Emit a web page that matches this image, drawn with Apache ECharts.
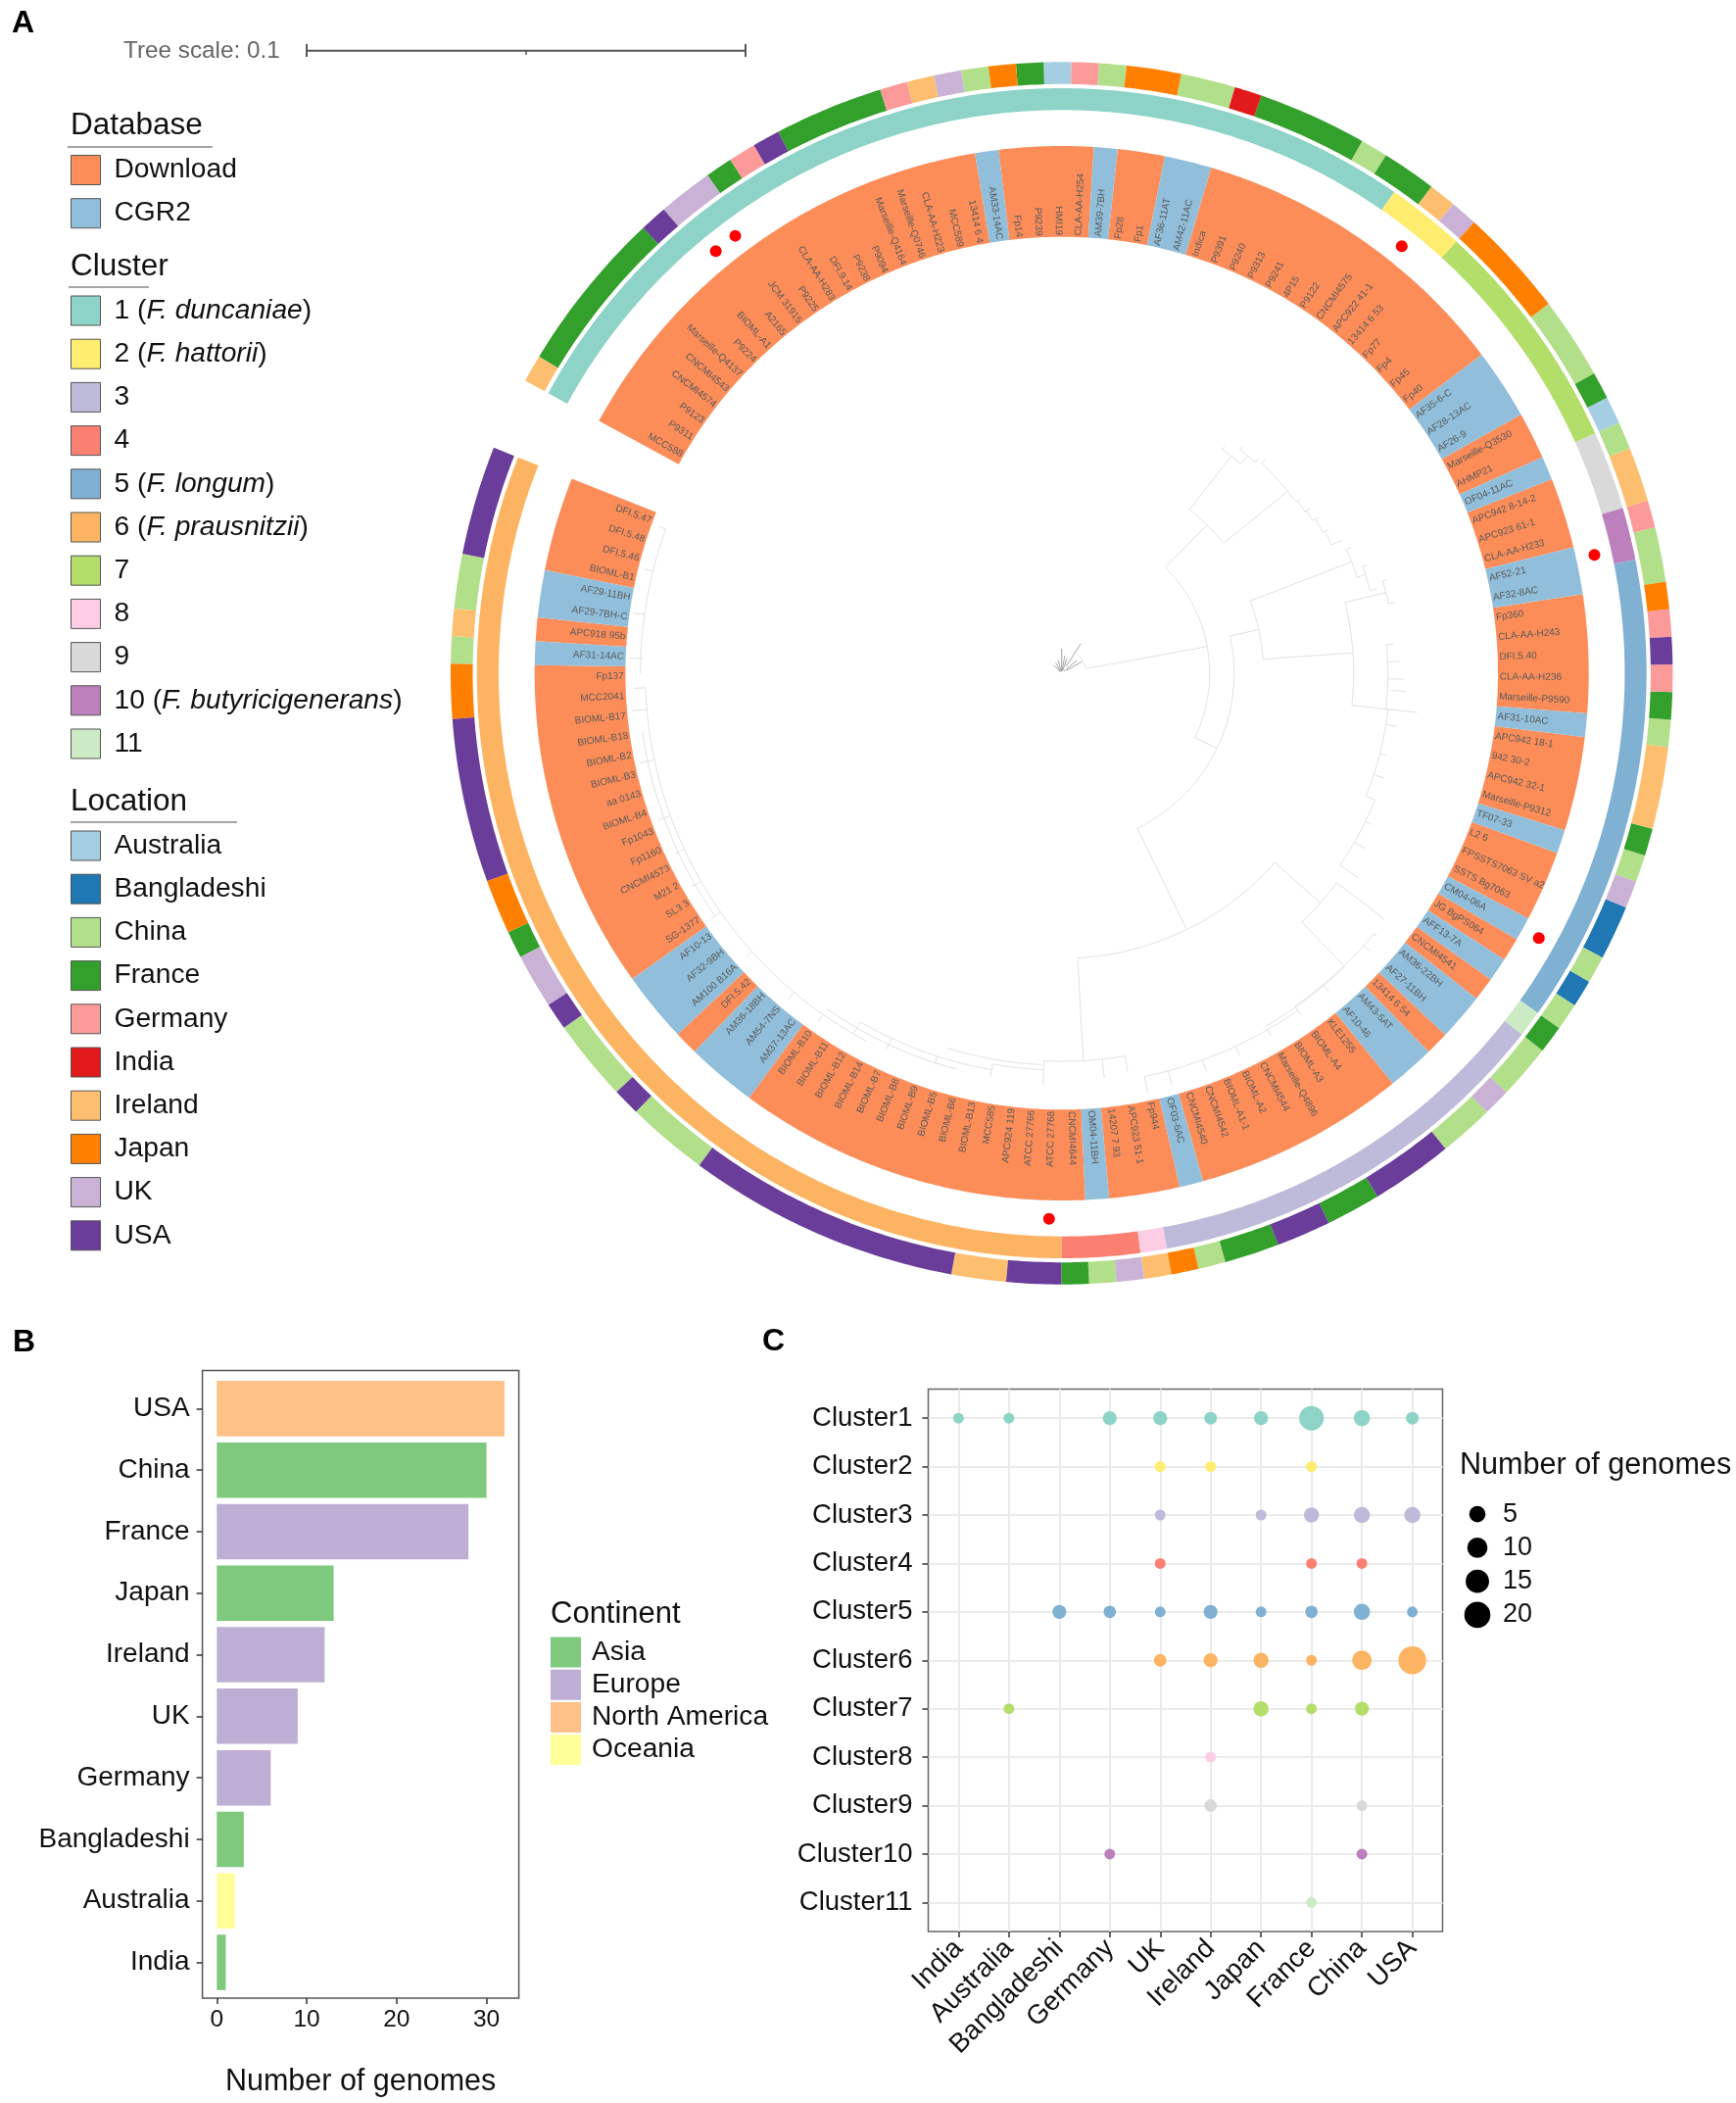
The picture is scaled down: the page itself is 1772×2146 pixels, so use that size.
<!DOCTYPE html>
<html>
<head>
<meta charset="utf-8">
<style>html,body{margin:0;padding:0;background:#fff}#c{width:1772px;height:2146px}</style>
<script src="https://cdn.jsdelivr.net/npm/echarts@6/dist/echarts.min.js"></script>
</head>
<body>
<div id="c"></div>
<script>
// ---------- DATA: panel A ----------
const leafNames = ["MCC588","P9311","P9123","CNCMI4574","CNCMI4543","Marseille-Q4137","P9224","BIOML-A1","A2165","JCM 31915","P9225","CLA-AA-H283","DFI.9.14","P9238","P9094","Marseille-Q4164","Marseille-Q0746","CLA-AA-H223","MCC589","13414 6 4","AM33-14AC","Fp14","P9239","HMI19","CLA-AA-H254","AM39-7BH","Fp28","Fp1","AF36-11AT","AM42-11AC","Indica","P9391","P9240","P9313","P9241","4P15","P9122","CNCMI4575","APC922 41-1","13414 6 53","Fp77","Fp4","Fp45","Fp40","AF35-6-C","AF28-13AC","AF26-9","Marseille-Q3530","AHMP21","OF04-11AC","APC942 8-14-2","APC923 61-1","CLA-AA-H233","AF52-21","AF32-8AC","Fp360","CLA-AA-H243","DFI.5.40","CLA-AA-H236","Marseille-P9590","AF31-10AC","APC942 18-1","942 30-2","APC942 32-1","Marseille-P9312","TF07-33","L2 6","FPSSTS7063 SV a2","SSTS Bg7063","CM04-06A","JG BgPS064","AFF13-7A","CNCMI4541","AM36-22BH","AF27-11BH","13414 6 54","AM43-5AT","AF10-46","KLE1255","BIOML-A4","BIOML-A3","Marseille-Q4896","CNCMI4544","BIOML-A2","BIOML-A1-1","CNCMI4542","CNCMI4540","OF03-6AC","Fp944","APC923 51-1","14207 7 93","OM04-11BH","CNCMI4644","ATCC 27768","ATCC 27766","APC924 119","MCC585","BIOML-B13","BIOML-B6","BIOML-B5","BIOML-B9","BIOML-B8","BIOML-B7","BIOML-B14","BIOML-B12","BIOML-B11","BIOML-B10","AM37-13AC","AM54-7NS","AM36-18BH","DFI.5.42","AM100 B16A","AF32-9BH","AF10-13","SG-1377","SL3 3","M21 2","CNCMI4573","Fp1160","Fp1043","BIOML-B4","aa 0143","BIOML-B3","BIOML-B2","BIOML-B18","BIOML-B17","MCC2041","Fp137","AF31-14AC","APC918 95b","AF29-7BH-C","AF29-11BH","BIOML-B1","DFI.5.46","DFI.5.48","DFI.5.47"];
const cgr2Leaves = ["AM33-14AC","AM39-7BH","AF36-11AT","AM42-11AC","AF35-6-C","AF28-13AC","AF26-9","OF04-11AC","AF52-21","AF32-8AC","AF31-10AC","TF07-33","CM04-06A","AFF13-7A","AM36-22BH","AF27-11BH","AM43-5AT","AF10-46","OF03-6AC","OM04-11BH","AM37-13AC","AM54-7NS","AM36-18BH","AM100 B16A","AF32-9BH","AF10-13","AF31-14AC","AF29-7BH-C","AF29-11BH"];
const clusterNames = ["1 (F. duncaniae)","2 (F. hattorii)","3","4","5 (F. longum)","6 (F. prausnitzii)","7","8","9","10 (F. butyricigenerans)","11"];
const clusterPalette = ["#8DD3C7","#FFED6F","#BEBADA","#FB8072","#80B1D3","#FDB462","#B3DE69","#FCCDE5","#D9D9D9","#BC80BD","#CCEBC5"];
const clusterRuns = [["1 (F. duncaniae)",37],["2 (F. hattorii)",3],["7",9],["9",3],["10 (F. butyricigenerans)",2],["5 (F. longum)",18],["11",1],["3",16],["8",1],["4",3],["6 (F. prausnitzii)",43]];
const locationRuns = [["Ireland",1],["France",6],["USA",1],["UK",2],["France",1],["Germany",1],["USA",1],["France",4],["Germany",1],["Ireland",1],["UK",1],["China",1],["Japan",1],["France",1],["Australia",1],["Germany",1],["China",1],["Japan",2],["China",2],["India",1],["France",4],["China",1],["France",2],["Ireland",1],["UK",1],["Japan",4],["China",3],["France",1],["Australia",1],["China",1],["Ireland",2],["Germany",1],["China",2],["Japan",1],["Germany",1],["USA",1],["Germany",1],["France",1],["China",1],["Ireland",3],["France",1],["China",1],["UK",1],["Bangladeshi",2],["China",1],["Bangladeshi",1],["China",1],["France",1],["China",2],["UK",1],["China",2],["USA",3],["France",2],["USA",2],["France",2],["China",1],["Japan",1],["Ireland",1],["UK",1],["China",1],["France",1],["USA",2],["Ireland",2],["USA",10],["China",3],["USA",1],["China",3],["USA",1],["UK",2],["France",1],["Japan",2],["USA",6],["Japan",2],["China",1],["Ireland",1],["China",2],["USA",4]];
const referenceLeaves = [8,9,38,53,69,93];
// tree: [angle, r0, r1] with angle in degrees clockwise from the top
const treeRadials = [[79.6,25,151],[44.4,151,212],[38,213,280],[51.2,213,296],[115.8,151,176],[77.5,176,206],[69,206,317],[86,206,298],[76,298,341],[96.3,298,333],[96.3,333,365],[154,176,291],[131.6,291,353],[127.3,353,414],[136,353,415],[176.8,292,396],[182.6,395,420],
[35.7,281,285],[40.5,281,292],[38.5,292,296],[42.5,292,298],[43.6,296,302],[53.9,296,301],[56.4,298,304],[58.7,300,307],[61.7,303,309],[64.6,305,316],
[66.5,317,322],[72,317,326],[70.5,326,330],[75,326,333],[74,341,345],[78,341,348],
[85,333,340],[88,333,345],[91,333,349],[93,336,352],[99,335,346],[104.2,335,342],[108,335,346],[112,335,345],[116,345,352],[120,345,358],[124.6,345,368],
[129.8,415,419],[132,415,423],[140,416,424],[145,416,426],[150,420,427],[155,420,430],[160,420,432],[165,420,434],[168.4,420,436],
[170.6,396,412],[174,396,415],[190,405,418],[198,411,420],[205,411,423],[210,411,425],
[215,425,434],[220,425,434],[228,425,432],[235,425,437],[240,425,436],[245,425,436],[250,425,438],[258,425,440],[265,425,440],[268,425,437],[272,428,441],[278,430,442],[284,430,440],[290,430,437]];
// tree arcs: [r, a0, a1]
const treeArcs = [[25,41,79.6],[151,44.4,115.8],[212,37.7,51.2],[176,77.5,154],[206,69,86],[298,76,96.3],[291,131.6,176.8],[353,127.3,136],[396,170.6,182.6],
[281,35.7,40.5],[292,38.5,42.5],[296,43.6,53.9],[298,53.9,56.4],[300,56.4,58.7],[303,58.7,61.7],[305,61.7,64.6],[317,66.5,72],[326,70.5,75],[341,74,78],
[333,85,96.3],[335,96.3,112],[345,112,124.6],[415,129.8,145],[416,136,150],[420,145,168.4],[405,182.6,190],[400,183,197],[411,190,210],[425,208,268],[418,195,215],[432,235,262],[430,270,290]];
const rootFan = [[315,2,12],[330,2,12],[345,2,14],[0,2,25],[10,3,18],[20,2,16],[33,8,36],[50,3,20],[60,6,24]];

// ---------- DATA: panel B ----------
const barCountries = ["USA","China","France","Japan","Ireland","UK","Germany","Bangladeshi","Australia","India"];
const barCounts = [32,30,28,13,12,9,6,3,2,1];
const barContinents = ["North America","Asia","Europe","Asia","Europe","Europe","Europe","Asia","Oceania","Asia"];
const continentNames = ["Asia","Europe","North America","Oceania"];
const xTicksB = [0,10,20,30];

// ---------- DATA: panel C ----------
const dotCountries = ["India","Australia","Bangladeshi","Germany","UK","Ireland","Japan","France","China","USA"];
const dotClusters = ["Cluster1","Cluster2","Cluster3","Cluster4","Cluster5","Cluster6","Cluster7","Cluster8","Cluster9","Cluster10","Cluster11"];
const cluster1Counts  = [1,1,0,3,3,2,3,17,5,2];
const cluster2Counts  = [0,0,0,0,1,1,0,1,0,0];
const cluster3Counts  = [0,0,0,0,1,0,1,4,5,5];
const cluster4Counts  = [0,0,0,0,1,0,0,1,1,0];
const cluster5Counts  = [0,0,3,2,1,3,1,2,5,1];
const cluster6Counts  = [0,0,0,0,2,3,4,1,9,24];
const cluster7Counts  = [0,1,0,0,0,0,4,1,3,0];
const cluster8Counts  = [0,0,0,0,0,1,0,0,0,0];
const cluster9Counts  = [0,0,0,0,0,2,0,0,1,0];
const cluster10Counts = [0,0,0,1,0,0,0,0,1,0];
const cluster11Counts = [0,0,0,0,0,0,0,1,0,0];
const sizeLegendValues = [5,10,15,20];

// ---------- palette ----------
const databaseNames = ["Download","CGR2"];
const databasePalette = ["#FC8D59","#91BFDB"];
const locationNames = ["Australia","Bangladeshi","China","France","Germany","India","Ireland","Japan","UK","USA"];
const locationPalette = ["#A6CEE3","#1F78B4","#B2DF8A","#33A02C","#FB9A99","#E31A1C","#FDBF6F","#FF7F00","#CAB2D6","#6A3D9A"];
const continentPalette = ["#7FC97F","#BEAED4","#FDC086","#FFFF99"];

// ---------- layout ----------
const FONT = '"Liberation Sans", Arial, sans-serif';
const leafStart = -61.4, leafStep = 2.596;
const angleOf = i => leafStart + i*leafStep;
const RINGS = {db:[445.3,538], cluster:[574.7,597], location:[601.2,623.7]};
const DOT_R = 557, LABEL_R = 447;

function polyArc(api, r, a0, a1){
  const n = Math.max(1, Math.ceil(Math.abs(a1-a0)/0.5)), pts=[];
  for(let k=0;k<=n;k++){ const p = api.coord([r, a0+(a1-a0)*k/n]); pts.push([p[0],p[1]]); }
  return pts;
}
function ringSeries(name, color, ring, runs){
  return {
    type:'custom', name, coordinateSystem:'polar', polarIndex:0, clip:false, silent:true,
    itemStyle:{color},
    data: runs,
    renderItem:(params,api)=>{
      const a0=angleOf(api.value(0)), a1=angleOf(api.value(1));
      const pts = polyArc(api,ring[1],a0,a1).concat(polyArc(api,ring[0],a1,a0));
      return {type:'polygon', shape:{points:pts}, style:{fill:color, stroke:null}};
    }
  };
}
function leafRunsFrom(values){
  const out=[]; let i=0;
  while(i<values.length){ let j=i; while(j<values.length && values[j]===values[i]) j++; out.push({v:values[i],range:[i,j]}); i=j; }
  return out;
}
const expand = runs => runs.reduce((acc,r)=>{ for(let k=0;k<r[1];k++) acc.push(r[0]); return acc; },[]);
const leafDatabase = leafNames.map(n=>cgr2Leaves.includes(n)?"CGR2":"Download");
const leafCluster = expand(clusterRuns);
const leafLocation = expand(locationRuns);

function ringGroup(values, names, palette, ring){
  const runs = leafRunsFrom(values);
  return names.map((name,k)=>ringSeries(name, palette[k], ring, runs.filter(r=>r.v===name).map(r=>r.range)));
}
function lineSeries(rows, color, width){
  return {
    type:'custom', coordinateSystem:'polar', polarIndex:0, clip:false, silent:true,
    data: rows,
    renderItem:(params,api)=>{
      const r0=api.value(0), r1=api.value(1), a0=api.value(2), a1=api.value(3);
      const pts = (r0===r1) ? polyArc(api,r0,a0,a1)
                            : [api.coord([r0,a0]).slice(0,2), api.coord([r1,a1]).slice(0,2)];
      return {type:'polyline', shape:{points:pts}, style:{stroke:color, lineWidth:width, fill:null}};
    }
  };
}
const treeRows = treeRadials.map(t=>[t[1],t[2],t[0],t[0]]).concat(treeArcs.map(t=>[t[0],t[0],t[1],t[2]]));
const fanRows = rootFan.map(t=>[t[1],t[2],t[0],t[0]]);

const labelSeries = {
  type:'custom', coordinateSystem:'polar', polarIndex:0, clip:false, silent:true,
  data: leafNames.map((n,i)=>[LABEL_R, i+0.5]),
  renderItem:(params,api)=>{
    const i = params.dataIndex, a = angleOf(api.value(1));
    const p = api.coord([api.value(0), a]);
    const flip = a<0 || a>180;
    const rot = (flip ? 270-((a+360)%360) : 90-a)*Math.PI/180;
    return {type:'text', x:p[0], y:p[1], rotation:rot,
      style:{text:leafNames[i], x:0, y:0, fill:'#5a5a5a', fontSize:10, fontFamily:FONT,
             align:flip?'right':'left', verticalAlign:'middle'}};
  }
};
const dotSeries = {
  type:'scatter', coordinateSystem:'polar', polarIndex:0, silent:true, symbolSize:12,
  itemStyle:{color:'#FF0000', opacity:1},
  data: referenceLeaves.map(i=>[DOT_R, angleOf(i+0.5)])
};

// ---------- panel B ----------
const bandB = 640.5/10.2;
const barSeries = continentNames.map((c,k)=>({
  type:'bar', name:c, stack:'genomes', xAxisIndex:0, yAxisIndex:0, barWidth:'90%', silent:true,
  itemStyle:{color:continentPalette[k]},
  data: barCounts.map((v,i)=>barContinents[i]===c?v:null)
}));

// ---------- panel C ----------
const allClusterCounts = [cluster1Counts,cluster2Counts,cluster3Counts,cluster4Counts,cluster5Counts,cluster6Counts,cluster7Counts,cluster8Counts,cluster9Counts,cluster10Counts,cluster11Counts];
const sizeScale = v => 6.5 + 4.49*Math.sqrt(v);
const dotPlotSeries = allClusterCounts.map((arr,ci)=>({
  type:'scatter', name:dotClusters[ci], xAxisIndex:1, yAxisIndex:1, silent:true,
  itemStyle:{color:clusterPalette[ci], opacity:1},
  symbolSize:d=>sizeScale(d[2]),
  data: arr.map((v,xi)=>[xi,ci,v]).filter(d=>d[2]>0)
}));
const sizeSeries = {
  type:'scatter', xAxisIndex:2, yAxisIndex:2, silent:true, itemStyle:{color:'#000', opacity:1},
  symbolSize:d=>sizeScale(d[2]),
  data: sizeLegendValues.map(v=>['k',String(v),v])
};

// ---------- annotation helpers ----------
const txt = (text,x,y,size,opts={}) => ({type:'text', x, y, silent:true, style:Object.assign({text, fontFamily:FONT, fontSize:size, fill:'#111', verticalAlign:'middle', align:'left'},opts)});
const rule = (x1,y1,x2,y2,stroke,w) => ({type:'line', silent:true, shape:{x1,y1,x2,y2}, style:{stroke,lineWidth:w}});
const legendBase = {orient:'vertical', padding:0, itemWidth:30, itemHeight:30, itemGap:13.2, icon:'rect', selectedMode:false,
  itemStyle:{borderColor:'#555', borderWidth:1}};
const legendText = {fontFamily:FONT, fontSize:28.2, lineHeight:30, color:'#111', padding:[0,0,0,9]};

const option = {
  animation:false, backgroundColor:'#fff',
  polar:{center:[1083.7,687], radius:[0,623.7]},
  angleAxis:{show:false, type:'value', min:leafStart, max:leafStart+360, startAngle:90-leafStart, clockwise:true},
  radiusAxis:{show:false, type:'value', min:0, max:623.7},
  grid:[
    {left:206.6, top:1399.7+bandB*0.1, width:323, height:640.5-bandB*0.2, outerBoundsMode:'none'},
    {left:947.5, top:1417.5, width:525, height:553.5, show:true, borderColor:'#666', borderWidth:1.5, backgroundColor:'transparent', outerBoundsMode:'none'},
    {left:1490, top:1528, width:36, height:137, outerBoundsMode:'none'},
    {left:206.6, top:1398.5, width:323, height:640.5, show:true, borderColor:'#555', borderWidth:1.5, backgroundColor:'transparent', outerBoundsMode:'none'}
  ],
  xAxis:[
    {gridIndex:0, type:'value', min:-1.6, max:33.6, offset:bandB*0.1-1.2,
     axisLine:{show:false, onZero:false}, splitLine:{show:false},
     axisTick:{show:true, length:6, customValues:xTicksB, lineStyle:{color:'#333',width:1.5}},
     axisLabel:{customValues:xTicksB, color:'#111', fontFamily:FONT, fontSize:24.5, margin:10},
     name:'Number of genomes', nameLocation:'middle', nameGap:70,
     nameTextStyle:{color:'#111', fontFamily:FONT, fontSize:30.5}},
    {gridIndex:1, type:'value', min:-0.6, max:9.6,
     axisLine:{show:false, onZero:false},
     splitLine:{show:true, lineStyle:{color:'#EBEBEB', width:2}},
     axisTick:{show:true, length:6, customValues:dotCountries.map((c,i)=>i), lineStyle:{color:'#333',width:1.5}},
     axisLabel:{customValues:dotCountries.map((c,i)=>i), rotate:45, margin:13, color:'#111', fontFamily:FONT, fontSize:27.5,
       formatter:v=>dotCountries[v]}},
    {gridIndex:2, type:'category', data:['k'], show:false}
  ],
  yAxis:[
    {gridIndex:0, type:'category', inverse:true, data:barCountries,
     axisLine:{show:false, onZero:false}, splitLine:{show:false},
     axisTick:{show:true, alignWithLabel:true, length:6, lineStyle:{color:'#333',width:1.5}},
     axisLabel:{color:'#111', fontFamily:FONT, fontSize:28, margin:13}},
    {gridIndex:1, type:'value', inverse:true, min:-0.6, max:10.6,
     axisLine:{show:false, onZero:false},
     splitLine:{show:true, lineStyle:{color:'#EBEBEB', width:2}},
     axisTick:{show:true, length:6, customValues:dotClusters.map((c,i)=>i), lineStyle:{color:'#333',width:1.5}},
     axisLabel:{customValues:dotClusters.map((c,i)=>i), color:'#111', fontFamily:FONT, fontSize:27.5, margin:16,
       formatter:v=>dotClusters[v]}},
    {gridIndex:2, type:'category', inverse:true, position:'right', data:sizeLegendValues.map(String),
     axisLine:{show:false, onZero:false}, axisTick:{show:false},
     axisLabel:{interval:0, color:'#111', fontFamily:FONT, fontSize:27, margin:8, align:'left'}}
  ],
  legend:[
    Object.assign({},legendBase,{left:72, top:158, data:databaseNames, textStyle:legendText}),
    Object.assign({},legendBase,{left:72, top:301.5, data:clusterNames,
      formatter:n=>n.replace(/\((.*)\)/,'({i|$1})'),
      textStyle:Object.assign({},legendText,{rich:{i:{fontStyle:'italic',fontFamily:FONT,fontSize:28.2,lineHeight:30,color:'#111'}}})}),
    Object.assign({},legendBase,{left:72, top:847.5, data:locationNames, textStyle:legendText}),
    {orient:'vertical', padding:0, left:562, top:1670.5, itemWidth:31, itemHeight:31, itemGap:2.2, icon:'rect', selectedMode:false,
     data:continentNames, textStyle:Object.assign({},legendText,{lineHeight:31,padding:[0,0,0,6]})}
  ],
  series:[
    lineSeries(treeRows,'#DEDEDE',0.9),
    lineSeries(fanRows,'#999999',0.9),
    ...ringGroup(leafDatabase,databaseNames,databasePalette,RINGS.db),
    ...ringGroup(leafCluster,clusterNames,clusterPalette,RINGS.cluster),
    ...ringGroup(leafLocation,locationNames,locationPalette,RINGS.location),
    labelSeries, dotSeries,
    ...barSeries, ...dotPlotSeries, sizeSeries
  ],
  graphic:{elements:[
    txt('A',12,24,32,{fontWeight:'bold',fill:'#000'}),
    txt('B',13,1370.5,32,{fontWeight:'bold',fill:'#000'}),
    txt('C',778,1369.5,32,{fontWeight:'bold',fill:'#000'}),
    txt('Tree scale: 0.1',126,52,24.3,{fill:'#666'}),
    rule(313,51.7,761,51.7,'#555',2), rule(313,45,313,58,'#555',2), rule(761,45,761,58,'#555',2), rule(537,51.7,537,56,'#555',1.5),
    txt('Database',72,128.4,31.5), rule(69,150,217,150,'#888',1.5),
    txt('Cluster',72,272.4,31.5), rule(70,293,152,293,'#888',1.5),
    txt('Location',72,818,31.5), rule(72,839,242,839,'#888',1.5),
    txt('Continent',562,1647.5,31),
    txt('Number of genomes',1490,1495.5,30.6)
  ]}
};
const chart = echarts.init(document.getElementById('c'),null,{renderer:'canvas',width:1772,height:2146});
chart.setOption(option);
</script>
</body>
</html>
